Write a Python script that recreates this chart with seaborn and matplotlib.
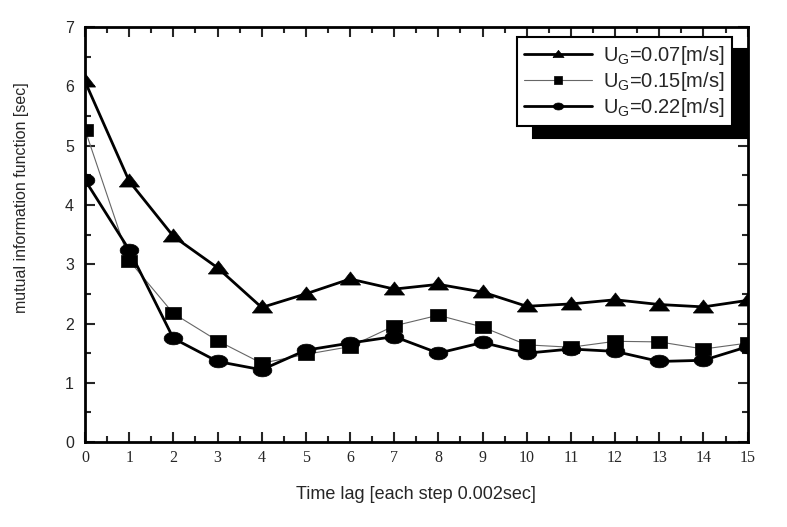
import matplotlib
matplotlib.use('Agg')
import matplotlib.pyplot as plt
from matplotlib.ticker import MultipleLocator
import seaborn as sns
import pandas as pd
import numpy as np

sns.set_style('ticks')
plt.rcParams['font.family'] = ['Liberation Sans', 'DejaVu Sans']
plt.rcParams['mathtext.fontset'] = 'custom'
plt.rcParams['mathtext.rm'] = 'Liberation Sans'

# time lag steps
lag = list(range(16))

# mutual information for three gas velocities
mi_007 = [6.08, 4.40, 3.47, 2.94, 2.27, 2.50, 2.75, 2.58, 2.66, 2.53, 2.29, 2.33, 2.40, 2.32, 2.28, 2.39]
mi_015 = [5.27, 3.06, 2.17, 1.71, 1.33, 1.48, 1.61, 1.96, 2.14, 1.94, 1.64, 1.60, 1.70, 1.69, 1.57, 1.67]
mi_022 = [4.42, 3.24, 1.75, 1.36, 1.22, 1.55, 1.67, 1.78, 1.50, 1.68, 1.50, 1.57, 1.53, 1.36, 1.38, 1.61]

labels = [r'U$_{\mathregular{G}}$=0.07[m/s]',
          r'U$_{\mathregular{G}}$=0.15[m/s]',
          r'U$_{\mathregular{G}}$=0.22[m/s]']

df = pd.DataFrame({'lag': lag * 3,
                   'mi': mi_007 + mi_015 + mi_022,
                   'case': [labels[0]] * 16 + [labels[1]] * 16 + [labels[2]] * 16})

# the scanned markers are squashed vertically
tri = [(-1, -0.55), (1, -0.55), (0, 0.75), (-1, -0.55)]
sq = [(-1, -0.8), (1, -0.8), (1, 0.8), (-1, 0.8), (-1, -0.8)]
t = np.linspace(0, 2 * np.pi, 40)
ell = list(zip(np.cos(t), 0.68 * np.sin(t)))

fig = plt.figure(figsize=(7.87, 5.27), dpi=100)
ax = fig.add_axes([0.108, 0.161, 0.842, 0.788])

styles = [(tri, 2.0, 'black', 14.5), (sq, 0.8, '#666666', 11.5), (ell, 2.0, 'black', 13.5)]
for lab, (mk, lw, lc, ms) in zip(labels, styles):
    sub = df[df['case'] == lab]
    sns.lineplot(data=sub, x='lag', y='mi', ax=ax, color=lc, lw=lw, marker=mk,
                 markersize=ms, markerfacecolor='black', markeredgecolor='black',
                 markeredgewidth=0.5, label=lab)

ax.set_xlim(0, 15)
ax.set_ylim(0, 7)
ax.xaxis.set_major_locator(MultipleLocator(1))
ax.xaxis.set_minor_locator(MultipleLocator(0.5))
ax.yaxis.set_major_locator(MultipleLocator(1))
ax.yaxis.set_minor_locator(MultipleLocator(0.5))
ax.tick_params(which='both', direction='in', top=True, right=True, width=1.5)
ax.tick_params(which='major', length=7)
ax.tick_params(which='minor', length=4)
ax.tick_params(axis='y', labelsize=11.5, pad=8)
ax.tick_params(axis='x', labelsize=11.5, pad=6)
for lbl in ax.get_xticklabels():
    lbl.set_fontfamily('Liberation Serif')
for s in ax.spines.values():
    s.set_linewidth(2)
    s.set_color('black')

ax.set_xlabel('Time lag [each step 0.002sec]', fontsize=13, labelpad=14)
ax.set_ylabel('mutual information function [sec]', fontsize=11.5)
ax.yaxis.set_label_coords(-0.085, 0.59)

leg = ax.legend(loc='upper right', bbox_to_anchor=(0.976, 0.976), fontsize=14.5,
                frameon=True, fancybox=False, edgecolor='black', framealpha=1,
                handlelength=3.4, handletextpad=0.55, borderpad=0.35, labelspacing=0.15,
                markerscale=0.55, borderaxespad=0,
                shadow={'ox': 11.5, 'oy': -8.6, 'color': 'black', 'alpha': 1})
leg.get_frame().set_linewidth(1.5)

fig.savefig('out.png', dpi=100)
